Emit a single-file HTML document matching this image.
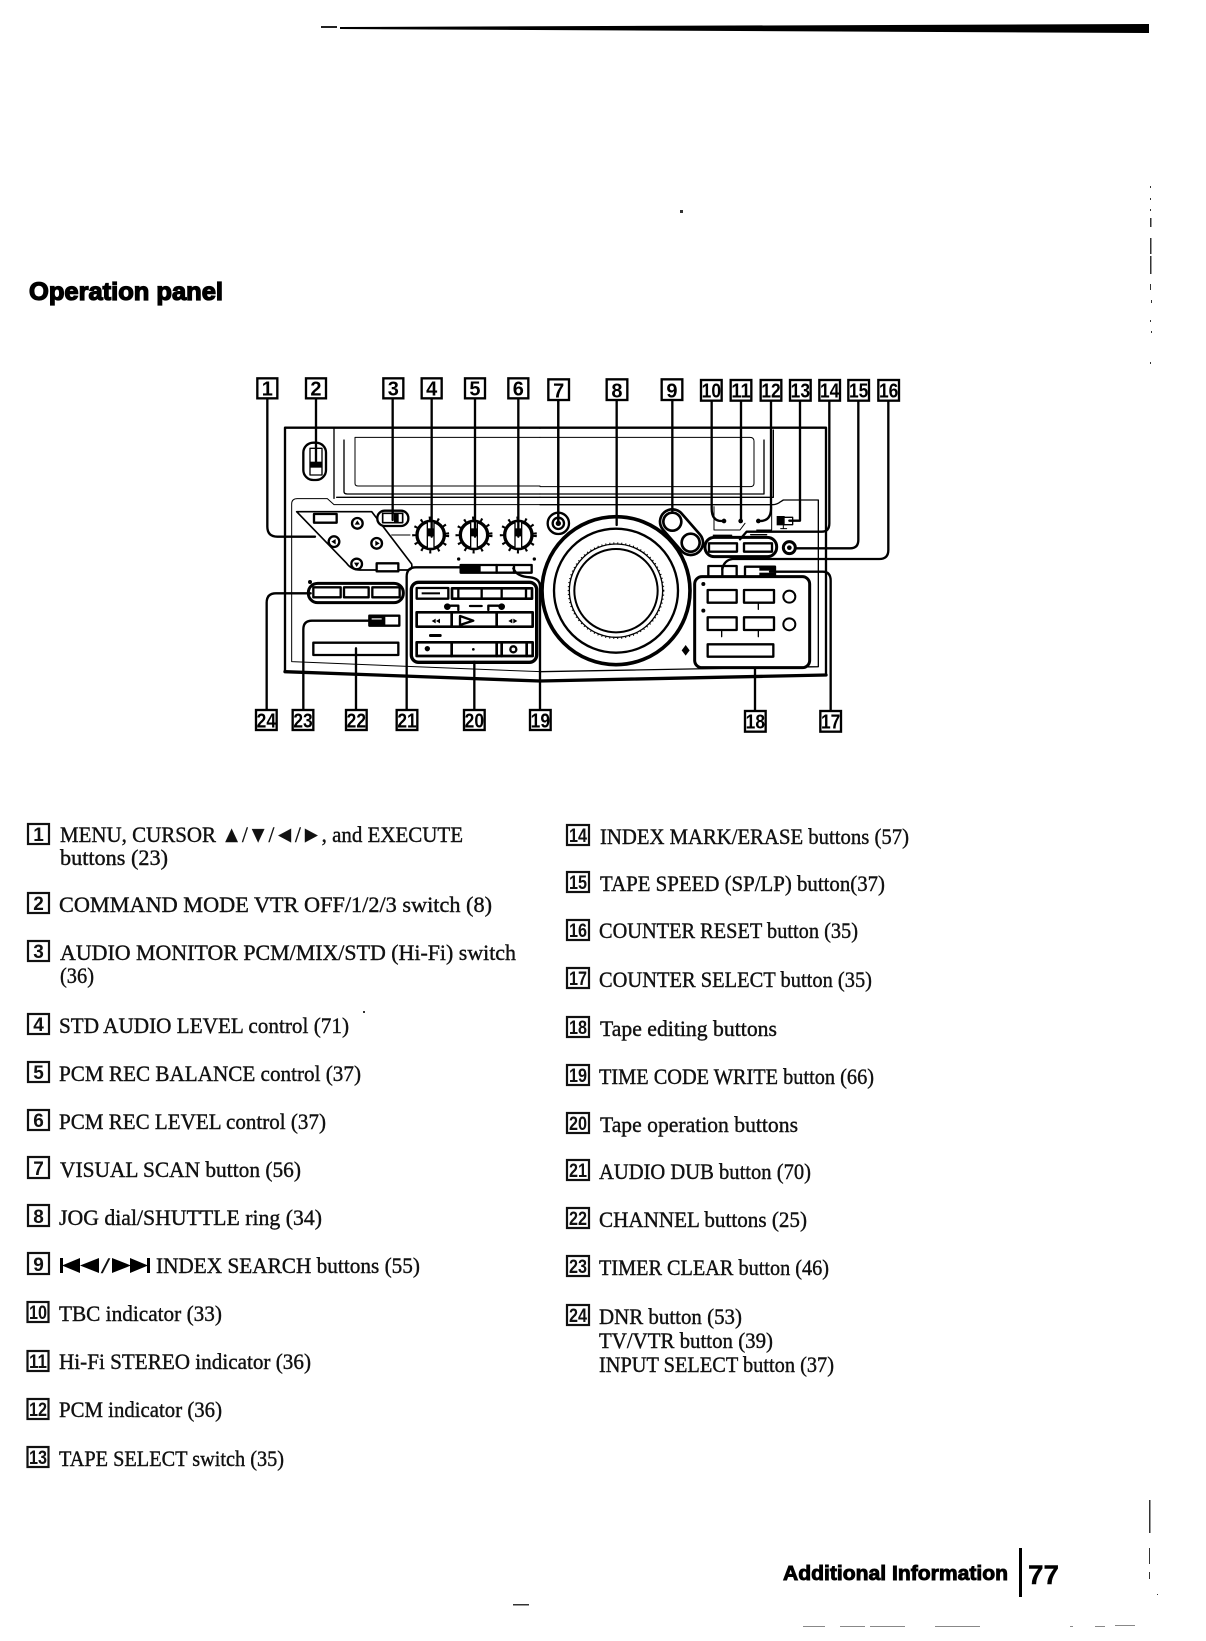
<!DOCTYPE html>
<html><head><meta charset="utf-8"><style>
html,body{margin:0;padding:0;background:#fff}
svg{display:block;filter:blur(.35px)}
.t{font:22.5px "Liberation Serif",serif;fill:#111;stroke:#111;stroke-width:.4}
.h{font:bold 25px "Liberation Sans",sans-serif;fill:#000;stroke:#000;stroke-width:1.3}
.f{font:bold 20px "Liberation Sans",sans-serif;fill:#000;stroke:#000;stroke-width:.9}
.n{font:bold 19px "Liberation Sans",sans-serif;fill:#111;text-anchor:middle}
.b{fill:#fff;stroke:#111;stroke-width:2.2}
.L{font:bold 60px "Liberation Sans",sans-serif;fill:#000;text-anchor:middle}
.B{fill:#fff;stroke:#000;stroke-width:7}
.l{fill:none;stroke:#000;stroke-width:7;stroke-linecap:round;stroke-linejoin:round}
.w{fill:#fff;stroke:#000;stroke-width:7;stroke-linejoin:round}
.k{fill:#000}
.m{fill:none;stroke:#000;stroke-width:13}
</style></head><body>
<svg width="1206" height="1641" viewBox="0 0 1206 1641" xmlns="http://www.w3.org/2000/svg">
<rect width="1206" height="1641" fill="#fff"/>
<!-- top rule -->
<polygon points="340,27 1149,24 1149,33 340,29" fill="#000"/>
<rect x="321" y="26" width="16" height="2" fill="#222"/>
<!-- edge specks -->
<g fill="#333">
<rect x="1150" y="186" width="1" height="2"/><rect x="1150" y="198" width="1" height="2"/><rect x="1150" y="209" width="1" height="2"/><rect x="1150" y="218" width="1.5" height="9"/><rect x="1150" y="238" width="1.500" height="16"/><rect x="1150" y="256" width="1.500" height="18"/><rect x="1150" y="284" width="1" height="6"/><rect x="1151" y="300" width="1" height="3"/><rect x="1150" y="320" width="1" height="2"/><rect x="1151" y="331" width="1" height="2"/><rect x="1150" y="362" width="1" height="2"/>
<rect x="1149" y="1500" width="1.500" height="33"/><rect x="1149" y="1548" width="1" height="16"/><rect x="1149" y="1572" width="1" height="7"/><rect x="1157" y="1594" width="1" height="1"/>
<rect x="513" y="1604" width="16" height="1.500"/>
<rect x="680" y="210" width="3" height="3"/><rect x="363" y="1011" width="2" height="2"/>
</g>
<g fill="#888">
<rect x="803" y="1626" width="22" height="1"/><rect x="840" y="1626" width="25" height="1"/><rect x="870" y="1626" width="35" height="1"/><rect x="935" y="1626" width="45" height="1"/><rect x="1070" y="1626" width="3" height="1"/><rect x="1095" y="1626" width="10" height="1"/><rect x="1115" y="1625" width="20" height="1"/>
</g>
<!-- headings -->
<text class="h" x="29" y="300" textLength="194" lengthAdjust="spacingAndGlyphs">Operation panel</text>
<text class="f" x="783" y="1580" textLength="225" lengthAdjust="spacingAndGlyphs">Additional Information</text>
<rect x="1019" y="1548" width="3" height="49" fill="#000"/>
<text x="1028" y="1584" font-family="Liberation Sans,sans-serif" font-weight="bold" font-size="27" textLength="31" lengthAdjust="spacingAndGlyphs" fill="#000" stroke="#000" stroke-width=".4">77</text>

<!-- DIAGRAM LEFT -->
<g transform="translate(240 360) scale(.33333)">
<!-- panel outline -->
<path class="l" d="M900 203H135V935" />
<path class="l" style="stroke-width:10" d="M135 935L900 963"/>
<path class="l" style="stroke-width:3" d="M155 905V432Q155 416 172 416H262L282 434H900M155 905L900 935"/>
<path class="l" style="stroke-width:4" d="M282 205V415M312 240V395Q312 402 322 402H900M290 412H900"/>
<path class="l" style="stroke-width:3" d="M345 232V370Q345 378 355 378H900M345 232H900"/>
<!-- switch 2 -->
<rect class="w" x="190" y="248" width="68" height="112" rx="30"/>
<rect class="w" style="stroke-width:4" x="210" y="265" width="36" height="80"/>
<rect class="k" x="210" y="305" width="36" height="18"/>
<!-- diamond -->
<path class="l" style="stroke-width:5" d="M170 455H395L515 612Q518 630 505 630H360Q335 630 320 610Z"/>
<rect class="w" x="222" y="462" width="68" height="26"/>
<rect class="w" x="410" y="610" width="65" height="24"/>
<g style="stroke-width:7">
<circle class="w" cx="352" cy="490" r="16"/><circle class="w" cx="282" cy="545" r="16"/><circle class="w" cx="410" cy="550" r="16"/><circle class="w" cx="350" cy="612" r="16"/>
<path class="k" d="M352 481l8 13h-16zM274 545l13-8v16zM419 550l-13-8v16zM350 621l8-13h-16z"/>
</g>
<!-- switch 3 -->
<rect class="w" x="412" y="452" width="93" height="46" rx="22"/>
<rect class="w" style="stroke-width:5" x="428" y="460" width="60" height="28"/>
<rect class="k" x="462" y="458" width="14" height="32"/>
<path class="l" d="M455 525H510" style="stroke-width:3"/>
<!-- knobs -->
<g>
<circle class="m" cx="572" cy="525" r="49" stroke-dasharray="6 19"/>
<circle class="w" style="stroke-width:10" cx="572" cy="525" r="41"/>
<rect x="562" y="485" width="20" height="80" fill="#fff" stroke="#000" stroke-width="4"/>
<rect class="k" x="562" y="505" width="20" height="24"/>
<circle class="m" cx="702" cy="525" r="49" stroke-dasharray="6 19"/>
<circle class="w" style="stroke-width:10" cx="702" cy="525" r="41"/>
<rect x="692" y="485" width="20" height="80" fill="#fff" stroke="#000" stroke-width="4"/>
<rect class="k" x="692" y="505" width="20" height="24"/>
<circle class="m" cx="835" cy="525" r="49" stroke-dasharray="6 19"/>
<circle class="w" style="stroke-width:10" cx="835" cy="525" r="41"/>
<rect x="825" y="485" width="20" height="80" fill="#fff" stroke="#000" stroke-width="4"/>
<rect class="k" x="825" y="505" width="20" height="24"/>
</g>
<circle class="w" cx="955" cy="490" r="32"/><circle class="w" cx="955" cy="490" r="17"/><circle class="k" cx="955" cy="490" r="8"/>
<!-- top small row -->
<rect class="w" x="662" y="615" width="213" height="23"/>
<rect class="k" x="662" y="615" width="60" height="23"/>
<path class="l" d="M770 615V638M822 615V638"/>
<circle class="k" cx="656" cy="597" r="5"/><circle class="k" cx="883" cy="597" r="5"/>
<!-- pill 24 -->
<rect class="w" style="stroke-width:9" x="205" y="670" width="285" height="58" rx="28"/>
<rect class="w" x="220" y="682" width="82" height="30"/><rect class="w" x="312" y="682" width="74" height="30"/><rect class="w" x="397" y="682" width="82" height="30"/>
<circle class="k" cx="210" cy="666" r="6"/>
<!-- 23, 22 -->
<rect class="w" x="388" y="767" width="90" height="30"/><rect class="k" x="388" y="767" width="48" height="30"/><rect x="395" y="775" width="30" height="6" fill="#fff"/>
<rect class="w" x="220" y="848" width="255" height="37"/>
<!-- tape section -->
<rect class="w" style="stroke-width:10" x="514" y="667" width="376" height="240" rx="22"/>
<rect class="w" x="530" y="684" width="95" height="32"/>
<rect x="545" y="697" width="55" height="6" fill="#000"/>
<rect class="w" style="stroke-width:8" x="636" y="685" width="240" height="31"/>
<path class="l" d="M655 685V716M725 685V716M785 685V716M858 685V716"/>
<circle class="k" cx="622" cy="740" r="10"/><circle class="k" cx="785" cy="740" r="10"/>
<path class="l" d="M632 737H655V750M690 738H725M745 750V737H775"/>
<rect class="w" style="stroke-width:8" x="530" y="757" width="348" height="43"/>
<path class="l" style="stroke-width:8" d="M635 757V800M770 757V800"/>
<path class="l" d="M660 768L700 782L660 795Z"/>
<path class="k" d="M575 783l12-7v14zM588 783l12-7v14zM805 783l12-7v14zM820 776l12 7-12 7z"/>
<rect x="567" y="822" width="38" height="9" rx="4" fill="#000"/>
<rect class="w" style="stroke-width:8" x="530" y="847" width="348" height="41"/>
<path class="l" style="stroke-width:8" d="M635 847V888M770 847V888M785 847V888M860 847V888"/>
<circle class="k" cx="562" cy="866" r="8"/><circle class="k" cx="700" cy="868" r="4"/><circle class="w" cx="820" cy="868" r="9"/>
<!-- leaders -->
<path class="l" d="M82 115V500Q82 530 112 530H225M228 115V305M458 115V480M575 115V530M705 115V530M835 115V530M955 115V490"/>
<path class="l" d="M80 1050V728Q80 700 108 700H212M190 1050V808Q190 782 216 782H430M348 1050V865M500 1050V650Q500 622 528 622H690M703 1050V905M900 1050V680Q900 655 870 652Q830 650 820 625"/>
<!-- labels -->
<rect class="B" x="52" y="55" width="60" height="60"/><text class="L" x="82" y="107">1</text>
<rect class="B" x="198" y="55" width="60" height="60"/><text class="L" x="228" y="107">2</text>
<rect class="B" x="430" y="55" width="60" height="60"/><text class="L" x="460" y="107">3</text>
<rect class="B" x="545" y="55" width="60" height="60"/><text class="L" x="575" y="107">4</text>
<rect class="B" x="675" y="55" width="60" height="60"/><text class="L" x="705" y="107">5</text>
<rect class="B" x="805" y="55" width="60" height="60"/><text class="L" x="835" y="107">6</text>
<rect class="B" x="48" y="1050" width="62" height="60"/><text class="L" x="79" y="1102" textLength="58" lengthAdjust="spacingAndGlyphs">24</text>
<rect class="B" x="158" y="1050" width="62" height="60"/><text class="L" x="189" y="1102" textLength="58" lengthAdjust="spacingAndGlyphs">23</text>
<rect class="B" x="318" y="1050" width="62" height="60"/><text class="L" x="349" y="1102" textLength="58" lengthAdjust="spacingAndGlyphs">22</text>
<rect class="B" x="470" y="1050" width="62" height="60"/><text class="L" x="501" y="1102" textLength="58" lengthAdjust="spacingAndGlyphs">21</text>
<rect class="B" x="672" y="1050" width="62" height="60"/><text class="L" x="703" y="1102" textLength="58" lengthAdjust="spacingAndGlyphs">20</text>
<rect class="B" x="870" y="1050" width="62" height="60"/><text class="L" x="901" y="1102" textLength="58" lengthAdjust="spacingAndGlyphs">19</text>
</g>

<!-- DIAGRAM RIGHT -->
<g transform="translate(540 360) scale(.33333)">
<path class="l" d="M0 203H858V945"/>
<path class="l" style="stroke-width:10" d="M0 963L858 945"/>
<path class="l" style="stroke-width:3" d="M0 232H630Q642 232 642 244V370Q642 380 630 380H0"/>
<path class="l" style="stroke-width:4" d="M0 402H672V240M0 412H700V210M0 434H695Q710 435 722 425L730 420H835V920M0 935L835 920"/>
<!-- jog dial -->
<circle cx="228" cy="692" r="222" fill="#fff" stroke="#000" stroke-width="11"/>
<circle cx="228" cy="692" r="186" fill="#fff" stroke="#000" stroke-width="7"/>
<circle cx="228" cy="692" r="140" fill="none" stroke="#000" stroke-width="4"/>
<circle cx="228" cy="692" r="125" fill="none" stroke="#000" stroke-width="6"/>
<circle cx="228" cy="692" r="142" fill="none" stroke="#000" stroke-width="6" stroke-dasharray="3 9"/>
<!-- search cluster -->
<path d="M397 485L452 548" stroke="#000" stroke-width="82" stroke-linecap="round" fill="none"/>
<path d="M397 485L452 548" stroke="#fff" stroke-width="66" stroke-linecap="round" fill="none"/>
<circle class="w" style="stroke-width:8" cx="397" cy="485" r="27"/><circle class="w" style="stroke-width:8" cx="452" cy="548" r="27"/>
<!-- indicators -->
<path class="l" style="stroke-width:3" d="M522 440V510H600L615 490M695 440V510H650"/>
<circle class="k" cx="552" cy="483" r="7"/><circle class="k" cx="602" cy="483" r="7"/><circle class="k" cx="655" cy="483" r="7"/>
<rect class="k" x="710" y="468" width="24" height="28"/>
<rect class="w" style="stroke-width:4" x="732" y="472" width="26" height="22"/>
<path class="l" d="M730 496V506M722 506H740" style="stroke-width:3"/>
<path class="l" d="M520 526H575M632 524H680" style="stroke-width:4"/>
<!-- pill 14 -->
<rect class="w" style="stroke-width:9" x="495" y="532" width="215" height="58" rx="28"/>
<rect class="w" x="507" y="550" width="84" height="25"/><rect class="w" x="612" y="550" width="84" height="25"/>
<circle class="w" style="stroke-width:9" cx="748" cy="563" r="18"/><circle class="k" cx="748" cy="563" r="7"/>
<!-- 16 17 buttons -->
<rect class="w" x="505" y="618" width="85" height="32"/><path class="l" d="M547 618V650"/>
<rect class="w" x="615" y="620" width="90" height="30"/><rect class="k" x="658" y="620" width="47" height="12"/><rect class="k" x="658" y="638" width="47" height="12"/>
<!-- leaders behind panel -->
<path class="l" d="M55 122V490M230 122V495M397 122V455M515 122V445Q515 483 545 483M603 122V483M693 122V445Q693 483 660 483M780 122V482H748M868 122V490Q868 515 845 515H620L600 538M955 122V540Q955 565 930 565H766M1045 122V570Q1045 597 1018 597H578Q552 600 547 628M872 1053V662Q872 635 848 635H690M645 1053V925"/>
<!-- tape editing -->
<rect class="w" style="stroke-width:9" x="464" y="650" width="345" height="273" rx="22"/>
<circle class="k" cx="490" cy="672" r="6"/><circle class="k" cx="490" cy="752" r="6"/>
<rect class="w" x="503" y="690" width="87" height="38"/><rect class="w" x="612" y="690" width="90" height="38"/>
<circle class="w" style="stroke-width:6" cx="748" cy="710" r="18"/>
<rect class="w" x="503" y="772" width="87" height="38"/><rect class="w" x="612" y="772" width="90" height="38"/>
<circle class="w" style="stroke-width:6" cx="748" cy="793" r="18"/>
<path class="l" style="stroke-width:4" d="M655 728V748M545 810V830M655 810V830"/>
<rect class="w" x="503" y="853" width="197" height="37"/>
<path class="k" d="M437 855l12 16-12 16-12-16z"/>
<!-- labels -->
<rect class="B" x="200" y="58" width="62" height="62"/><text class="L" x="231" y="112">8</text>
<rect class="B" x="25" y="58" width="62" height="62"/><text class="L" x="56" y="112">7</text>
<rect class="B" x="365" y="58" width="62" height="62"/><text class="L" x="396" y="112">9</text>
<rect class="B" x="483" y="60" width="62" height="62"/><text class="L" x="514" y="112" textLength="58" lengthAdjust="spacingAndGlyphs">10</text>
<rect class="B" x="572" y="60" width="62" height="62"/><text class="L" x="603" y="112" textLength="58" lengthAdjust="spacingAndGlyphs">11</text>
<rect class="B" x="662" y="60" width="62" height="62"/><text class="L" x="693" y="112" textLength="58" lengthAdjust="spacingAndGlyphs">12</text>
<rect class="B" x="750" y="60" width="62" height="62"/><text class="L" x="781" y="112" textLength="58" lengthAdjust="spacingAndGlyphs">13</text>
<rect class="B" x="838" y="60" width="62" height="62"/><text class="L" x="869" y="112" textLength="58" lengthAdjust="spacingAndGlyphs">14</text>
<rect class="B" x="925" y="60" width="62" height="62"/><text class="L" x="956" y="112" textLength="58" lengthAdjust="spacingAndGlyphs">15</text>
<rect class="B" x="1015" y="60" width="62" height="62"/><text class="L" x="1046" y="112" textLength="58" lengthAdjust="spacingAndGlyphs">16</text>
<rect class="B" x="615" y="1053" width="62" height="62"/><text class="L" x="646" y="1105" textLength="58" lengthAdjust="spacingAndGlyphs">18</text>
<rect class="B" x="841" y="1053" width="62" height="62"/><text class="L" x="872" y="1105" textLength="58" lengthAdjust="spacingAndGlyphs">17</text>
</g>

<!-- LEFT LIST -->
<g>
<rect class="b" x="28" y="824" width="21" height="20"/><text class="n" x="38.500" y="841">1</text>
<text class="t" x="60" y="842" textLength="403" lengthAdjust="spacingAndGlyphs">MENU, CURSOR ▲/▼/◄/►, and EXECUTE</text>
<text class="t" x="60" y="865" textLength="108" lengthAdjust="spacingAndGlyphs">buttons (23)</text>
<rect class="b" x="28" y="893" width="21" height="20"/><text class="n" x="38.500" y="910">2</text>
<text class="t" x="59" y="912" textLength="433" lengthAdjust="spacingAndGlyphs">COMMAND MODE VTR OFF/1/2/3 switch (8)</text>
<rect class="b" x="28" y="941" width="21" height="20"/><text class="n" x="38.500" y="958">3</text>
<text class="t" x="60" y="960" textLength="456" lengthAdjust="spacingAndGlyphs">AUDIO MONITOR PCM/MIX/STD (Hi-Fi) switch</text>
<text class="t" x="60" y="983" textLength="34" lengthAdjust="spacingAndGlyphs">(36)</text>
<rect class="b" x="28" y="1014" width="21" height="20"/><text class="n" x="38.500" y="1031">4</text>
<text class="t" x="59" y="1033" textLength="290" lengthAdjust="spacingAndGlyphs">STD AUDIO LEVEL control (71)</text>
<rect class="b" x="28" y="1062" width="21" height="20"/><text class="n" x="38.500" y="1079">5</text>
<text class="t" x="59" y="1081" textLength="302" lengthAdjust="spacingAndGlyphs">PCM REC BALANCE control (37)</text>
<rect class="b" x="28" y="1110" width="21" height="20"/><text class="n" x="38.500" y="1127">6</text>
<text class="t" x="59" y="1129" textLength="267" lengthAdjust="spacingAndGlyphs">PCM REC LEVEL control (37)</text>
<rect class="b" x="28" y="1157" width="21" height="21"/><text class="n" x="38.500" y="1175">7</text>
<text class="t" x="60" y="1177" textLength="241" lengthAdjust="spacingAndGlyphs">VISUAL SCAN button (56)</text>
<rect class="b" x="28" y="1205" width="21" height="21"/><text class="n" x="38.500" y="1223">8</text>
<text class="t" x="59" y="1225" textLength="263" lengthAdjust="spacingAndGlyphs">JOG dial/SHUTTLE ring (34)</text>
<rect class="b" x="28" y="1253" width="21" height="21"/><text class="n" x="38.500" y="1271">9</text>
<path fill="#000" d="M60 1258h3v15h-3zM62 1265.500l18-7.500v15zM80 1265.500l19-7.500v15zM112 1258l19 7.500-19 7.500zM130 1258l18 7.500-18 7.500zM147 1258h3v15h-3z"/>
<text class="t" x="101" y="1273" textLength="9" lengthAdjust="spacingAndGlyphs">/</text>
<text class="t" x="156" y="1273" textLength="264" lengthAdjust="spacingAndGlyphs">INDEX SEARCH buttons (55)</text>
<rect class="b" x="27.500" y="1302" width="21" height="20"/><text class="n" x="38" y="1319" textLength="18" lengthAdjust="spacingAndGlyphs">10</text>
<text class="t" x="59" y="1321" textLength="163" lengthAdjust="spacingAndGlyphs">TBC indicator (33)</text>
<rect class="b" x="27.500" y="1351" width="21" height="20"/><text class="n" x="38" y="1368" textLength="18" lengthAdjust="spacingAndGlyphs">11</text>
<text class="t" x="59" y="1369" textLength="252" lengthAdjust="spacingAndGlyphs">Hi-Fi STEREO indicator (36)</text>
<rect class="b" x="27.500" y="1399" width="21" height="20"/><text class="n" x="38" y="1416" textLength="18" lengthAdjust="spacingAndGlyphs">12</text>
<text class="t" x="59" y="1417" textLength="163" lengthAdjust="spacingAndGlyphs">PCM indicator (36)</text>
<rect class="b" x="27.500" y="1447" width="21" height="20"/><text class="n" x="38" y="1464" textLength="18" lengthAdjust="spacingAndGlyphs">13</text>
<text class="t" x="59" y="1466" textLength="225" lengthAdjust="spacingAndGlyphs">TAPE SELECT switch (35)</text>
</g>

<!-- RIGHT LIST -->
<g>
<rect class="b" x="567" y="825" width="22" height="20"/><text class="n" x="578" y="842" textLength="18" lengthAdjust="spacingAndGlyphs">14</text>
<text class="t" x="600" y="844" textLength="309" lengthAdjust="spacingAndGlyphs">INDEX MARK/ERASE buttons (57)</text>
<rect class="b" x="567" y="872" width="22" height="20"/><text class="n" x="578" y="889" textLength="18" lengthAdjust="spacingAndGlyphs">15</text>
<text class="t" x="600" y="891" textLength="285" lengthAdjust="spacingAndGlyphs">TAPE SPEED (SP/LP) button(37)</text>
<rect class="b" x="567" y="920" width="22" height="20"/><text class="n" x="578" y="937" textLength="18" lengthAdjust="spacingAndGlyphs">16</text>
<text class="t" x="599" y="938" textLength="259" lengthAdjust="spacingAndGlyphs">COUNTER RESET button (35)</text>
<rect class="b" x="567" y="968" width="22" height="20"/><text class="n" x="578" y="985" textLength="18" lengthAdjust="spacingAndGlyphs">17</text>
<text class="t" x="599" y="987" textLength="273" lengthAdjust="spacingAndGlyphs">COUNTER SELECT button (35)</text>
<rect class="b" x="567" y="1017" width="22" height="20"/><text class="n" x="578" y="1034" textLength="18" lengthAdjust="spacingAndGlyphs">18</text>
<text class="t" x="600" y="1036" textLength="177" lengthAdjust="spacingAndGlyphs">Tape editing buttons</text>
<rect class="b" x="567" y="1065" width="22" height="20"/><text class="n" x="578" y="1082" textLength="18" lengthAdjust="spacingAndGlyphs">19</text>
<text class="t" x="599" y="1084" textLength="275" lengthAdjust="spacingAndGlyphs">TIME CODE WRITE button (66)</text>
<rect class="b" x="567" y="1113" width="22" height="20"/><text class="n" x="578" y="1130" textLength="18" lengthAdjust="spacingAndGlyphs">20</text>
<text class="t" x="600" y="1132" textLength="198" lengthAdjust="spacingAndGlyphs">Tape operation buttons</text>
<rect class="b" x="567" y="1160" width="22" height="20"/><text class="n" x="578" y="1177" textLength="18" lengthAdjust="spacingAndGlyphs">21</text>
<text class="t" x="599" y="1179" textLength="212" lengthAdjust="spacingAndGlyphs">AUDIO DUB button (70)</text>
<rect class="b" x="567" y="1208" width="22" height="20"/><text class="n" x="578" y="1225" textLength="18" lengthAdjust="spacingAndGlyphs">22</text>
<text class="t" x="599" y="1227" textLength="208" lengthAdjust="spacingAndGlyphs">CHANNEL buttons (25)</text>
<rect class="b" x="567" y="1256" width="22" height="20"/><text class="n" x="578" y="1273" textLength="18" lengthAdjust="spacingAndGlyphs">23</text>
<text class="t" x="599" y="1275" textLength="230" lengthAdjust="spacingAndGlyphs">TIMER CLEAR button (46)</text>
<rect class="b" x="567" y="1305" width="22" height="20"/><text class="n" x="578" y="1322" textLength="18" lengthAdjust="spacingAndGlyphs">24</text>
<text class="t" x="599" y="1324" textLength="143" lengthAdjust="spacingAndGlyphs">DNR button (53)</text>
<text class="t" x="599" y="1348" textLength="174" lengthAdjust="spacingAndGlyphs">TV/VTR button (39)</text>
<text class="t" x="599" y="1372" textLength="235" lengthAdjust="spacingAndGlyphs">INPUT SELECT button (37)</text>
</g>
</svg>
</body></html>
